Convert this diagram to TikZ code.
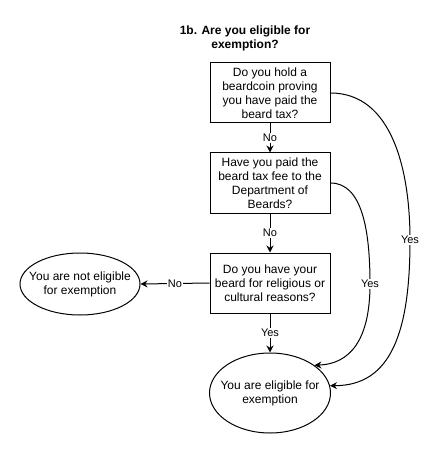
\documentclass[tikz,border=0pt]{standalone}
\usepackage{fontspec}
\setmainfont{Liberation Sans}
\usetikzlibrary{shapes.geometric,arrows.meta}
\begin{document}
\begin{tikzpicture}[x=1pt,y=-1pt,
  every node/.style={font=\fontsize{12}{14}\selectfont},
  qbox/.style={draw, line width=1pt, rectangle, minimum width=120pt, minimum height=60pt, inner sep=0pt, align=center},
  endell/.style={draw, line width=1pt, ellipse, inner sep=0pt},
  etext/.style={align=center, inner sep=0pt},
  lbl/.style={fill=white, inner sep=1pt, font=\fontsize{11}{13}\selectfont},
  conn/.style={line width=1pt, -{Stealth[length=7pt,width=7pt]}}
]
\useasboundingbox (0,0) rectangle (440,454);
\node[align=center, font=\bfseries\fontsize{12}{14}\selectfont] (title) at (245,38) {1b. Are you eligible for\\exemption?};
\node[qbox] (b1) at (270,93) {Do you hold a\\beardcoin proving\\you have paid the\\beard tax?};
\node[qbox] (b2) at (270,183) {Have you paid the\\beard tax fee to the\\Department of\\Beards?};
\node[qbox] (b3) at (270,283) {Do you have your\\beard for religious or\\cultural reasons?};
\node[endell, minimum width=120pt, minimum height=62pt] (e1) at (80,284) {};
\node[etext] (e1t) at (e1.center) {You are not eligible\\for exemption};
\node[endell, minimum width=121pt, minimum height=80pt] (e2) at (270,393) {};
\node[etext] (e2t) at (e2.center) {You are eligible for\\exemption};

\draw[conn] (b1.south) -- node[lbl] {No} (b2.north);
\draw[conn] (b2.south) -- node[lbl] {No} (b3.north);
\draw[conn] (b3.south) -- node[lbl] {Yes} (e2.north);
\draw[conn] (b3.west) -- node[lbl] {No} (e1.east);
\draw[conn] (b2.east) .. controls (362,183) and (370,230) .. (370,284) node[lbl] {Yes}
   .. controls (370,340) and (350,364) .. (e2.32);
\draw[conn] (b1.east) .. controls (392,93) and (410,170) .. (410,240) node[lbl] {Yes}
   .. controls (410,330) and (392,386) .. (e2.7);
\end{tikzpicture}
\end{document}
